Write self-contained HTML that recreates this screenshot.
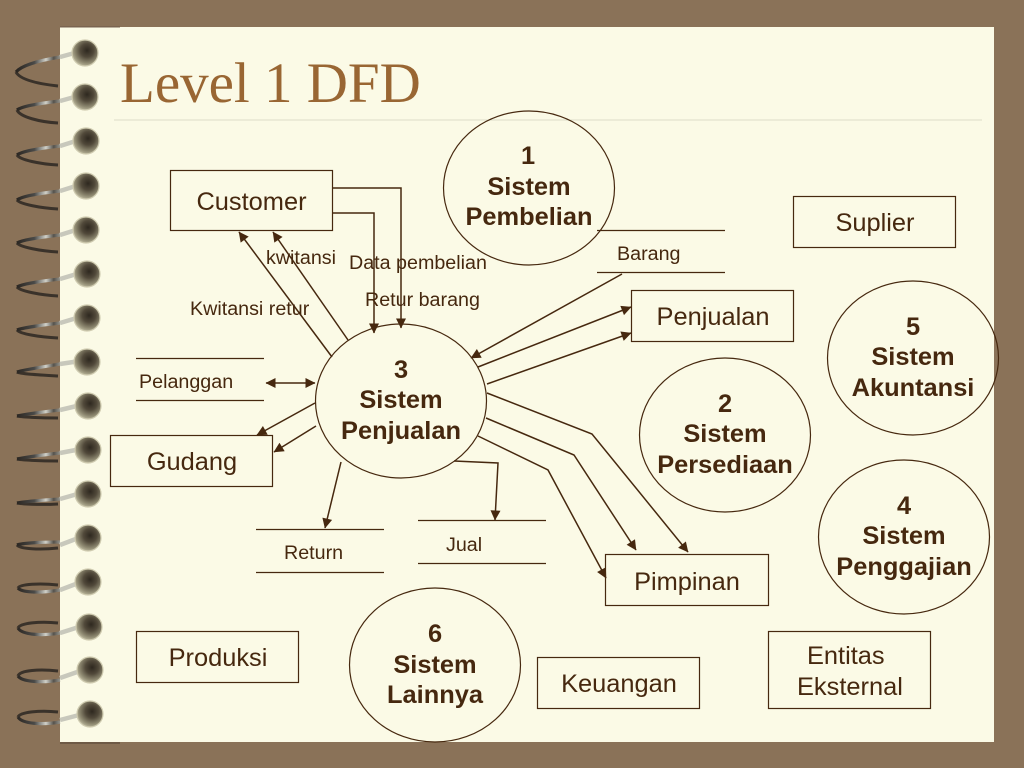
<!DOCTYPE html>
<html><head><meta charset="utf-8"><style>
html,body{margin:0;padding:0;width:1024px;height:768px;overflow:hidden;background:#8a7258}
svg{display:block}
text{font-family:"Liberation Sans",sans-serif;fill:#46280f}
.l{font-size:25.4px}.s{font-size:19.7px}.b{font-size:25.4px;font-weight:bold}
.m{text-anchor:middle}
.e{fill:none;stroke:#46280f;stroke-width:1.2}
.r{fill:none;stroke:#46280f;stroke-width:1.2}
.a{fill:none;stroke:#46280f;stroke-width:1.5}
.lo{fill:none;stroke:#3a322a;stroke-width:3}
.up{fill:none;stroke:url(#w);stroke-width:3.2}
.st{fill:none;stroke:#c8c8bc;stroke-width:4.5}
.bl{fill:url(#g);stroke:#cfcbb0;stroke-width:1.2}
</style></head><body>
<svg width="1024" height="768" viewBox="0 0 1024 768" xmlns="http://www.w3.org/2000/svg">
<defs>
<radialGradient id="g" cx="0.58" cy="0.4" r="0.68"><stop offset="0" stop-color="#2e281f"/><stop offset="0.38" stop-color="#51493a"/><stop offset="0.72" stop-color="#8f8a72"/><stop offset="1" stop-color="#cdc9ae"/></radialGradient>
<linearGradient id="w" gradientUnits="userSpaceOnUse" x1="16" y1="0" x2="62" y2="0"><stop offset="0" stop-color="#2a2520"/><stop offset="0.4" stop-color="#4a4a48"/><stop offset="0.65" stop-color="#d0d0c8"/><stop offset="0.82" stop-color="#55524c"/><stop offset="1" stop-color="#a8a8a0"/></linearGradient>
<marker id="m" viewBox="0 0 10 10" refX="9.500" refY="5" markerWidth="11" markerHeight="10" markerUnits="userSpaceOnUse" orient="auto"><path d="M0 0L10 5L0 10Z" fill="#46280f"/></marker>
<marker id="ms" viewBox="0 0 10 10" refX="0.500" refY="5" markerWidth="11" markerHeight="10" markerUnits="userSpaceOnUse" orient="auto"><path d="M10 0L0 5L10 10Z" fill="#46280f"/></marker>
</defs>
<rect width="1024" height="768" fill="#8a7258"/>
<rect x="60" y="27" width="934" height="715" fill="#fbfae6"/>
<rect x="60" y="26" width="60" height="1.500" fill="#7a6450"/>
<rect x="60" y="742" width="60" height="2" fill="#6e5a46"/>

<path class="lo" d="M58 86C40 84 20 80 16 72"/><path class="up" d="M60 57C42 60 22 65 16 72"/><path class="st" d="M60 57L78 52"/><circle class="bl" cx="85" cy="53" r="13"/>
<path class="lo" d="M58 123C40 122 20 117 17 110"/><path class="up" d="M60 101C42 103 22 106 17 110"/><path class="st" d="M60 101L78 96"/><circle class="bl" cx="85" cy="97" r="13"/>
<path class="lo" d="M58 165C40 164 20 160 17 155"/><path class="up" d="M60 146C42 148 22 151 17 155"/><path class="st" d="M60 146L79 140"/><circle class="bl" cx="86" cy="141" r="13"/>
<path class="lo" d="M58 209C40 208 20 204 17 200"/><path class="up" d="M60 191C42 193 22 196 17 200"/><path class="st" d="M60 191L79 185"/><circle class="bl" cx="86" cy="186" r="13"/>
<path class="lo" d="M58 252C40 251 20 247 17 243"/><path class="up" d="M60 235C42 237 22 240 17 243"/><path class="st" d="M60 235L79 229"/><circle class="bl" cx="86" cy="230" r="13"/>
<path class="lo" d="M58 296C40 295 20 291 17 287"/><path class="up" d="M60 279C42 281 22 284 17 287"/><path class="st" d="M60 279L80 273"/><circle class="bl" cx="87" cy="274" r="13"/>
<path class="lo" d="M58 338C40 337 20 334 17 330"/><path class="up" d="M60 323C42 325 22 328 17 330"/><path class="st" d="M60 323L80 317"/><circle class="bl" cx="87" cy="318" r="13"/>
<path class="lo" d="M58 376C40 375 20 374 17 372"/><path class="up" d="M60 364C42 367 22 370 17 372"/><path class="st" d="M60 364L80 361"/><circle class="bl" cx="87" cy="362" r="13"/>
<path class="lo" d="M58 418C40 418 20 417 17 416"/><path class="up" d="M60 410C42 412 22 415 17 416"/><path class="st" d="M60 410L81 405"/><circle class="bl" cx="88" cy="406" r="13"/>
<path class="lo" d="M58 461C40 461 20 460 17 459"/><path class="up" d="M60 453C42 455 22 458 17 459"/><path class="st" d="M60 453L81 449"/><circle class="bl" cx="88" cy="450" r="13"/>
<path class="lo" d="M58 504C40 505 20 504 17 503"/><path class="up" d="M60 499C42 500 22 502 17 503"/><path class="st" d="M60 499L81 493"/><circle class="bl" cx="88" cy="494" r="13"/>
<path class="lo" d="M58 548C40 550 20 549 17 545"/><path class="up" d="M60 542C42 542 22 543 17 545"/><path class="st" d="M60 545L81 537"/><circle class="bl" cx="88" cy="538" r="13"/>
<path class="lo" d="M58 585C40 583 20 584 18 588"/><path class="up" d="M60 590C42 593 22 593 18 588"/><path class="st" d="M60 590L81 582"/><circle class="bl" cx="88" cy="582" r="13"/>
<path class="lo" d="M58 623C40 621 20 623 18 628"/><path class="up" d="M60 633C42 636 22 635 18 628"/><path class="st" d="M60 633L82 626"/><circle class="bl" cx="89" cy="627" r="13"/>
<path class="lo" d="M58 671C40 669 20 670 18 676"/><path class="up" d="M60 680C42 683 22 682 18 676"/><path class="st" d="M60 678L83 670"/><circle class="bl" cx="90" cy="670" r="13"/>
<path class="lo" d="M58 712C40 710 20 712 18 717"/><path class="up" d="M60 722C42 725 22 724 18 717"/><path class="st" d="M60 720L83 714"/><circle class="bl" cx="90" cy="714" r="13"/>

<text x="120" y="102" font-size="57" style="font-family:'Liberation Serif',serif;fill:#996633">Level 1 DFD</text>
<rect x="114" y="119.500" width="868" height="1" fill="#dcdcc8"/>

<rect class="r" x="170.500" y="170.500" width="162" height="60"/><text class="l m" x="251.500" y="210">Customer</text>
<rect class="r" x="793.500" y="196.500" width="162" height="51"/><text class="l m" x="875" y="231">Suplier</text>
<rect class="r" x="631.500" y="290.500" width="162" height="51"/><text class="l m" x="713" y="325">Penjualan</text>
<rect class="r" x="110.500" y="435.500" width="162" height="51"/><text class="l m" x="192" y="470">Gudang</text>
<rect class="r" x="605.500" y="554.500" width="163" height="51"/><text class="l m" x="687" y="590">Pimpinan</text>
<rect class="r" x="136.500" y="631.500" width="162" height="51"/><text class="l m" x="218" y="666">Produksi</text>
<rect class="r" x="537.500" y="657.500" width="162" height="51"/><text class="l m" x="619" y="692">Keuangan</text>
<rect class="r" x="768.500" y="631.500" width="162" height="77"/><text class="l" x="807" y="664">Entitas</text><text class="l" x="797" y="695">Eksternal</text>

<ellipse class="e" cx="529" cy="188" rx="85.500" ry="77"/>
<text class="b m" x="528" y="164">1</text><text class="b m" x="529" y="195">Sistem</text><text class="b m" x="529" y="225">Pembelian</text>
<ellipse class="e" cx="913" cy="358" rx="85.500" ry="77"/>
<text class="b m" x="913" y="335">5</text><text class="b m" x="913" y="365">Sistem</text><text class="b m" x="913" y="396">Akuntansi</text>
<ellipse class="e" cx="401" cy="401" rx="85.500" ry="77"/>
<text class="b m" x="401" y="378">3</text><text class="b m" x="401" y="408">Sistem</text><text class="b m" x="401" y="439">Penjualan</text>
<ellipse class="e" cx="725" cy="435" rx="85.500" ry="77"/>
<text class="b m" x="725" y="412">2</text><text class="b m" x="725" y="442">Sistem</text><text class="b m" x="725" y="473">Persediaan</text>
<ellipse class="e" cx="904" cy="537" rx="85.500" ry="77"/>
<text class="b m" x="904" y="514">4</text><text class="b m" x="904" y="544">Sistem</text><text class="b m" x="904" y="575">Penggajian</text>
<ellipse class="e" cx="435" cy="665" rx="85.500" ry="77"/>
<text class="b m" x="435" y="642">6</text><text class="b m" x="435" y="673">Sistem</text><text class="b m" x="435" y="703">Lainnya</text>

<g stroke="#46280f" stroke-width="1.2">
<line x1="597" y1="230.500" x2="725" y2="230.500"/><line x1="597" y1="272.500" x2="725" y2="272.500"/>
<line x1="136" y1="358.500" x2="264" y2="358.500"/><line x1="136" y1="400.500" x2="264" y2="400.500"/>
<line x1="256" y1="529.500" x2="384" y2="529.500"/><line x1="256" y1="572.500" x2="384" y2="572.500"/>
<line x1="418" y1="520.500" x2="546" y2="520.500"/><line x1="418" y1="563.500" x2="546" y2="563.500"/>
</g>
<text class="s" x="617" y="260">Barang</text>
<text class="s" x="139" y="388">Pelanggan</text>
<text class="s" x="284" y="559">Return</text>
<text class="s" x="446" y="551">Jual</text>
<text class="s" x="266" y="264">kwitansi</text>
<text class="s" x="349" y="269">Data pembelian</text>
<text class="s" x="365" y="306">Retur barang</text>
<text class="s" x="190" y="315">Kwitansi retur</text>

<path class="a" d="M333 188H401V328" marker-end="url(#m)"/>
<path class="a" d="M333 213H374V333" marker-end="url(#m)"/>
<path class="a" d="M348 340L273 232" marker-end="url(#m)"/>
<path class="a" d="M332 357L239 232" marker-end="url(#m)"/>
<path class="a" d="M622 274L471 358" marker-end="url(#m)"/>
<path class="a" d="M478 367L631 307" marker-end="url(#m)"/>
<path class="a" d="M487 384L631 333" marker-end="url(#m)"/>
<path class="a" d="M266 383H315" marker-start="url(#ms)" marker-end="url(#m)"/>
<path class="a" d="M315 403L257 435" marker-end="url(#m)"/>
<path class="a" d="M316 426L274 452" marker-end="url(#m)"/>
<path class="a" d="M341 462L325 528" marker-end="url(#m)"/>
<path class="a" d="M454 461L498 463L495 520" marker-end="url(#m)"/>
<path class="a" d="M487 393L592 434L688 552" marker-end="url(#m)"/>
<path class="a" d="M486 418L574 455L636 550" marker-end="url(#m)"/>
<path class="a" d="M478 436L548 470L606 578" marker-end="url(#m)"/>
</svg>
</body></html>
